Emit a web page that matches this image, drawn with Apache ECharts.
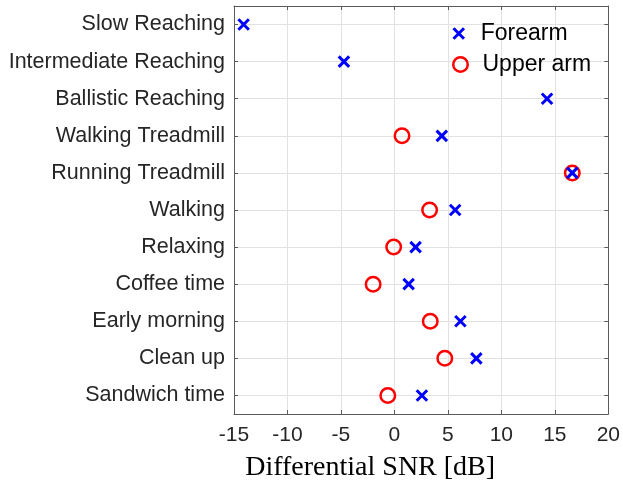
<!DOCTYPE html>
<html>
<head>
<meta charset="utf-8">
<script src="https://cdn.jsdelivr.net/npm/echarts@6/dist/echarts.min.js"></script>
<style>html,body{margin:0;padding:0;background:#fff}#c{width:623px;height:487px}</style>
</head>
<body>
<div id="c"></div>
<script>
const categories = ['Slow Reaching','Intermediate Reaching','Ballistic Reaching','Walking Treadmill','Running Treadmill','Walking','Relaxing','Coffee time','Early morning','Clean up','Sandwich time'];
const forearm = [-14.1, -4.72, 14.27, 4.43, 16.63, 5.68, 1.98, 1.33, 6.17, 7.66, 2.57];
const upperArm = [null, null, null, 0.71, 16.63, 3.29, -0.07, -1.99, 3.35, 4.71, -0.62];
const xTicks = {min: -15, max: 20, interval: 5};

const toPairs = arr => arr.map((v, i) => v == null ? null : [v, categories[i]]).filter(d => d);
const crossPath = 'path://M0,0L10,10M10,0L0,10';
const frame = '#5a5a5a';
const font = 'Liberation Sans, Arial, Helvetica, sans-serif';

const chart = echarts.init(document.getElementById('c'), null, {renderer: 'canvas'});
chart.setOption({
  animation: false,
  backgroundColor: '#ffffff',
  grid: {left: 234, right: 13, top: 6, bottom: 73, containLabel: false},
  legend: [
    {data: ['Forearm'], orient: 'vertical', left: 452, top: 22, padding: 0,
     itemWidth: 34, itemHeight: 10.5,
     itemStyle: {color: 'rgba(0,0,0,0)', borderColor: '#0000ff', borderWidth: 3},
     textStyle: {fontSize: 23, color: '#000', fontFamily: font}},
    {data: ['Upper arm'], orient: 'vertical', left: 452, top: 53, padding: 0,
     itemWidth: 34, itemHeight: 14.5,
     itemStyle: {color: 'rgba(0,0,0,0)', borderColor: '#ff0000', borderWidth: 2.5},
     textStyle: {fontSize: 23, color: '#000', fontFamily: font}}
  ],
  xAxis: [
    {type: 'value', min: xTicks.min, max: xTicks.max, interval: xTicks.interval, position: 'bottom',
     axisLine: {show: true, onZero: false, lineStyle: {color: frame, width: 1}},
     axisTick: {show: true, inside: true, length: 4, lineStyle: {color: frame}},
     axisLabel: {fontSize: 21, color: '#262626', margin: 11, fontFamily: font},
     splitLine: {show: true, lineStyle: {color: '#e2e2e2', width: 1}},
     name: 'Differential SNR [dB]', nameLocation: 'middle', nameGap: 40,
     nameTextStyle: {fontSize: 28, color: '#000', fontFamily: 'Liberation Serif, Times New Roman, serif', padding: [0, 102, 0, 0]}},
    {type: 'value', min: xTicks.min, max: xTicks.max, interval: xTicks.interval, position: 'top',
     axisLine: {show: true, onZero: false, lineStyle: {color: frame, width: 1}},
     axisTick: {show: true, inside: true, length: 4, lineStyle: {color: frame}},
     axisLabel: {show: false}, splitLine: {show: false}}
  ],
  yAxis: [
    {type: 'category', data: categories, inverse: true, position: 'left',
     axisLine: {show: true, onZero: false, lineStyle: {color: frame, width: 1}},
     axisTick: {show: true, inside: true, length: 4, alignWithLabel: true, lineStyle: {color: frame}},
     axisLabel: {fontSize: 21.5, color: '#262626', margin: 9, fontFamily: font, interval: 0},
     splitLine: {show: true, alignWithLabel: true, interval: 0, lineStyle: {color: '#e2e2e2', width: 1}}},
    {type: 'category', data: categories, inverse: true, position: 'right',
     axisLine: {show: true, onZero: false, lineStyle: {color: frame, width: 1}},
     axisTick: {show: true, inside: true, length: 4, alignWithLabel: true, lineStyle: {color: frame}},
     axisLabel: {show: false}, splitLine: {show: false}}
  ],
  series: [
    {name: 'Forearm', type: 'scatter', xAxisIndex: 0, yAxisIndex: 0,
     symbol: crossPath, symbolSize: 10.5, z: 3,
     itemStyle: {color: 'rgba(0,0,0,0)', borderColor: '#0000ff', borderWidth: 3, opacity: 1},
     data: toPairs(forearm)},
    {name: 'Upper arm', type: 'scatter', xAxisIndex: 0, yAxisIndex: 0,
     symbol: 'circle', symbolSize: 14.5, z: 2,
     itemStyle: {color: 'rgba(0,0,0,0)', borderColor: '#ff0000', borderWidth: 2.5, opacity: 1},
     data: toPairs(upperArm)}
  ]
});
</script>
</body>
</html>
